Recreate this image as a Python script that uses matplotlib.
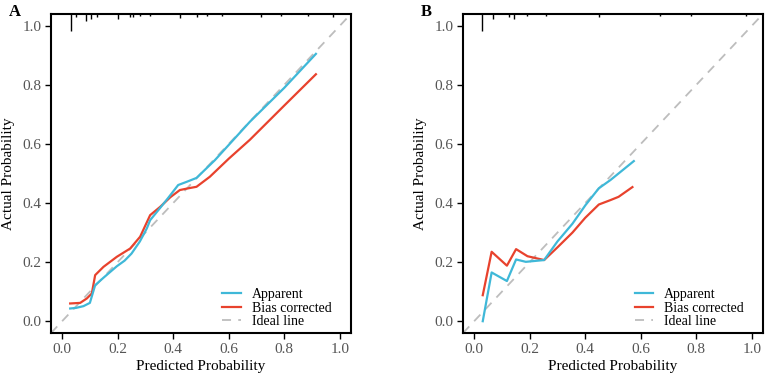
"""Calibration curves (apparent vs bias corrected) for two models, panels A and B."""
import matplotlib; matplotlib.use("Agg")
import matplotlib.pyplot as plt
import numpy as np

plt.rcParams["font.family"] = ["Liberation Serif", "DejaVu Serif"]

BLUE = "#3fb8d8"
RED = "#e8422d"
GREY = "#bdbdbd"
TICKS = [0.0, 0.2, 0.4, 0.6, 0.8, 1.0]
TICK_LABELS = ["0.0", "0.2", "0.4", "0.6", "0.8", "1.0"]

# panel A
a_app_x = [0.029, 0.05, 0.077, 0.10, 0.119, 0.15, 0.197, 0.225, 0.25, 0.28, 0.305, 0.317,
           0.35, 0.38, 0.418, 0.449, 0.484, 0.55, 0.676, 0.80, 0.914]
a_app_y = [0.043, 0.045, 0.051, 0.062, 0.122, 0.148, 0.186, 0.205, 0.229, 0.27, 0.314, 0.342,
           0.38, 0.415, 0.461, 0.472, 0.485, 0.545, 0.675, 0.79, 0.905]
a_bc_x = [0.029, 0.065, 0.089, 0.107, 0.119, 0.149, 0.197, 0.245, 0.281, 0.317, 0.353,
          0.39, 0.424, 0.455, 0.484, 0.532, 0.60, 0.676, 0.80, 0.914]
a_bc_y = [0.060, 0.062, 0.077, 0.094, 0.156, 0.184, 0.218, 0.246, 0.286, 0.359, 0.387,
          0.42, 0.444, 0.450, 0.455, 0.489, 0.55, 0.614, 0.73, 0.836]
a_rug_x = [0.031, 0.050, 0.085, 0.104, 0.125, 0.20, 0.245, 0.256, 0.28, 0.317, 0.424, 0.484,
           0.52, 0.574, 0.718, 0.79, 0.885, 0.975]
a_rug_h = [0.057, 0.010, 0.024, 0.017, 0.010, 0.017, 0.010, 0.010, 0.007, 0.007, 0.014, 0.010,
           0.007, 0.007, 0.010, 0.007, 0.007, 0.010]

# panel B
b_app_x = [0.031, 0.063, 0.118, 0.151, 0.186, 0.252, 0.30, 0.354, 0.401, 0.449, 0.491, 0.575]
b_app_y = [0.0, 0.165, 0.136, 0.209, 0.201, 0.207, 0.27, 0.33, 0.393, 0.450, 0.478, 0.542]
b_bc_x = [0.031, 0.063, 0.118, 0.151, 0.192, 0.252, 0.30, 0.354, 0.40, 0.449, 0.491, 0.520, 0.570]
b_bc_y = [0.088, 0.235, 0.188, 0.244, 0.220, 0.207, 0.25, 0.30, 0.35, 0.395, 0.410, 0.421, 0.454]
b_rug_x = [0.029, 0.067, 0.127, 0.145, 0.192, 0.26, 0.449, 0.67, 0.78, 0.98]
b_rug_h = [0.057, 0.017, 0.010, 0.017, 0.007, 0.007, 0.010, 0.007, 0.007, 0.007]

fig = plt.figure(figsize=(7.67, 3.78), dpi=100)
panels = [
    ("A", [0.0665, 0.119, 0.391, 0.844], a_app_x, a_app_y, a_bc_x, a_bc_y, a_rug_x, a_rug_h),
    ("B", [0.6037, 0.119, 0.391, 0.844], b_app_x, b_app_y, b_bc_x, b_bc_y, b_rug_x, b_rug_h),
]
for tag, rect, ax_x, ax_y, bx, by, rx, rh in panels:
    ax = fig.add_axes(rect)
    lo, hi = -0.04, 1.04
    ax.plot([lo, hi], [lo, hi], ls=(0, (5, 4)), color=GREY, lw=1.3, label="Ideal line", zorder=1)
    ax.plot(ax_x, ax_y, color=BLUE, lw=1.6, label="Apparent", zorder=3)
    ax.plot(bx, by, color=RED, lw=1.6, label="Bias corrected", zorder=2)
    ax.vlines(rx, hi - np.array(rh), hi, color="black", lw=1.0, zorder=4)
    ax.set_xlim(lo, hi); ax.set_ylim(lo, hi)
    ax.set_xticks(TICKS, TICK_LABELS); ax.set_yticks(TICKS, TICK_LABELS)
    ax.tick_params(direction="out", length=4, width=1.0, labelsize=11,
                   labelcolor="#555555", color="black", pad=3)
    for s in ax.spines.values():
        s.set_linewidth(1.5)
    ax.set_xlabel("Predicted Probability", fontsize=11, labelpad=3)
    ax.set_ylabel("Actual Probability", fontsize=11, labelpad=5)
    h, l = ax.get_legend_handles_labels()
    order = [1, 2, 0]
    ax.legend([h[i] for i in order], [l[i] for i in order], loc="lower right",
              frameon=False, fontsize=10, handlelength=1.3, handletextpad=0.8,
              labelspacing=0.05, borderaxespad=0, borderpad=0,
              bbox_to_anchor=(0.935, 0.015))
    fig.text(rect[0] - 0.055, 0.99, tag, fontsize=12, fontweight="bold", va="top")

fig.savefig("out.png", dpi=100)
